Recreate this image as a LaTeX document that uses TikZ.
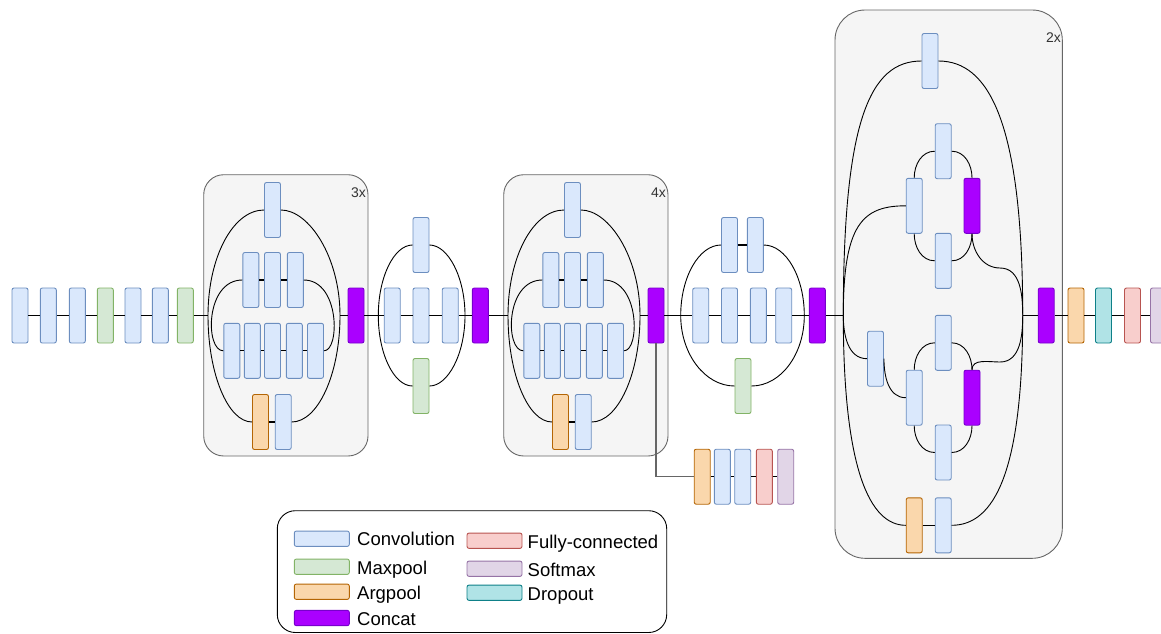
\documentclass[tikz,border=0pt]{standalone}
\usepackage{fontspec}
\setmainfont{Liberation Sans}
\definecolor{convF}{HTML}{DAE8FC}\definecolor{convD}{HTML}{6C8EBF}
\definecolor{maxF}{HTML}{D5E8D4}\definecolor{maxD}{HTML}{82B366}
\definecolor{argF}{HTML}{FAD7AC}\definecolor{argD}{HTML}{B46504}
\definecolor{catF}{HTML}{AA00FF}\definecolor{catD}{HTML}{7700CC}
\definecolor{fcF}{HTML}{F8CECC}\definecolor{fcD}{HTML}{B85450}
\definecolor{smF}{HTML}{E1D5E7}\definecolor{smD}{HTML}{9673A6}
\definecolor{doF}{HTML}{B0E3E6}\definecolor{doD}{HTML}{0E8088}
\definecolor{boxF}{HTML}{F5F5F5}\definecolor{boxD}{HTML}{666666}
\definecolor{labC}{HTML}{333333}
\newcommand\legfont{\fontsize{18.5}{22}\selectfont}
\newcommand\lblfont{\fontsize{14}{16}\selectfont}
\tikzset{
  blk/.style={rectangle, rounded corners=2pt, minimum width=16pt, minimum height=55pt, inner sep=0pt, line width=0.9pt},
  conv/.style={blk, fill=convF, draw=convD},
  maxp/.style={blk, fill=maxF, draw=maxD},
  argp/.style={blk, fill=argF, draw=argD},
  concat/.style={blk, fill=catF, draw=catD},
  fcl/.style={blk, fill=fcF, draw=fcD},
  smx/.style={blk, fill=smF, draw=smD},
  dropo/.style={blk, fill=doF, draw=doD},
  sw/.style={rectangle, rounded corners=2pt, minimum width=55pt, minimum height=15.3pt, inner sep=0pt, line width=0.9pt},
  wire/.style={line width=1.1pt, black},
  curve/.style={line width=0.9pt, black},
  modbox/.style={fill=boxF, draw=boxD, line width=0.9pt},
  lbl/.style={anchor=east, inner sep=0pt, text=labC, font=\lblfont},
  legtext/.style={anchor=base west, inner sep=0pt, font=\legfont},
}
\newcommand\incmod[3]{%
\begin{scope}[xshift=#2pt]
  \draw[modbox, rounded corners=20pt] (203.7,174.7) rectangle (368,456);
  \node[lbl] (#1lab) at (366,193) {#3};
  \coordinate (#1in) at (208,315.5);
  \coordinate (#1out) at (340,315.5);
  \node[conv] (#1t) at (272.5,210) {};
  \node[conv] (#1ra) at (250.8,280) {};
  \node[conv] (#1rb) at (272.5,280) {};
  \node[conv] (#1rc) at (295.3,280) {};
  \node[conv] (#1sa) at (231.8,350.8) {};
  \node[conv] (#1sb) at (252.3,350.8) {};
  \node[conv] (#1sc) at (272.5,350.8) {};
  \node[conv] (#1sd) at (294.3,350.8) {};
  \node[conv] (#1se) at (315.5,350.8) {};
  \node[argp] (#1o) at (260.5,422) {};
  \node[conv] (#1p) at (283.2,422) {};
  \node[concat] (#1c) at (356,315.5) {};
  \draw[curve] (#1in) .. controls (208,257) and (233,210) .. (#1t.west);
  \draw[curve] (#1t.east) .. controls (309,210) and (340,257) .. (#1out);
  \draw[curve] (#1in) .. controls (208,374) and (228,422) .. (#1o.west);
  \draw[curve] (#1p.east) .. controls (318,422) and (340,374) .. (#1out);
  \draw[curve] (#1ra.west) .. controls (205,280) and (205,351) .. (#1sa.west);
  \draw[curve] (#1rc.east) .. controls (340,280) and (340,351) .. (#1se.east);
  \draw[wire] (#1ra) -- (#1rb) -- (#1rc);
  \draw[wire] (#1sa) -- (#1sb) -- (#1sc) -- (#1sd) -- (#1se);
  \draw[wire] (#1o) -- (#1p);
  \draw[curve] (#1out) -- (#1c);
\end{scope}}
\begin{document}
\begin{tikzpicture}[x=1pt,y=-1pt]
\useasboundingbox (0,0) rectangle (1161,633);
% left chain
\node[conv] (c1) at (20,315.5) {};
\node[conv] (c2) at (48.3,315.5) {};
\node[conv] (c3) at (77.3,315.5) {};
\node[maxp] (c4) at (105.3,315.5) {};
\node[conv] (c5) at (133,315.5) {};
\node[conv] (c6) at (160.3,315.5) {};
\node[maxp] (c7) at (185.3,315.5) {};
\draw[wire] (c1) -- (c2) -- (c3) -- (c4) -- (c5) -- (c6) -- (c7);
% modules 1 and 2
\incmod{ma}{0}{3x}
\incmod{mc}{300}{4x}
\draw[wire] (c7) -- (main);
% between module
\node[conv] (bt) at (421,245) {};
\node[conv] (b1) at (392.2,315.5) {};
\node[conv] (b2) at (421,315.5) {};
\node[conv] (b3) at (450.2,315.5) {};
\node[maxp] (bg) at (421,386) {};
\node[concat] (bc) at (480.3,315.5) {};
\coordinate (bin) at (378.3,315.5);
\coordinate (bout) at (465,315.5);
\draw[curve] (bin) .. controls (378.3,277) and (394,245) .. (bt.west);
\draw[curve] (bt.east) .. controls (448,245) and (465,277) .. (bout);
\draw[curve] (bin) .. controls (378.3,354) and (394,386) .. (bg.west);
\draw[curve] (bg.east) .. controls (448,386) and (465,354) .. (bout);
\draw[wire] (mac) -- (b1) -- (b2) -- (b3) -- (bc);
\draw[wire] (bc) -- (mcin);
% aux classifier
\node[argp] (a1) at (702.2,476.7) {};
\node[conv] (a2) at (722.3,476.7) {};
\node[conv] (a3) at (742.7,476.7) {};
\node[fcl] (a4) at (764.3,476.7) {};
\node[smx] (a5) at (785.7,476.7) {};
\draw[line width=1.1pt, draw=boxD] (mcc.south) |- (a1.west);
\draw[wire] (a1) -- (a2) -- (a3) -- (a4) -- (a5);
% module 3
\node[conv] (dt1) at (729.5,245) {};
\node[conv] (dt2) at (755.3,245) {};
\node[conv] (d1) at (700.7,315.5) {};
\node[conv] (d2) at (729.5,315.5) {};
\node[conv] (d3) at (758.3,315.5) {};
\node[conv] (d4) at (783.7,315.5) {};
\node[maxp] (dg) at (743,386) {};
\node[concat] (dc) at (817.3,315.5) {};
\coordinate (din) at (680.7,315.5);
\coordinate (dout) at (804.3,315.5);
\draw[curve] (din) .. controls (680.7,277) and (699,245) .. (dt1.west);
\draw[curve] (dt2.east) .. controls (786,245) and (804.3,277) .. (dout);
\draw[curve] (din) .. controls (680.7,354) and (705,386) .. (dg.west);
\draw[curve] (dg.east) .. controls (781,386) and (804.3,354) .. (dout);
\draw[wire] (dt1) -- (dt2);
\draw[wire] (mcc) -- (d1) -- (d2) -- (d3) -- (d4) -- (dc);
% big module
\draw[modbox, rounded corners=30pt] (835,10) rectangle (1062.3,558.3);
\node[lbl] (elab) at (1061,38) {2x};
\coordinate (ein) at (843.3,315.5);
\coordinate (eout) at (1022.7,315.5);
\node[conv] (et) at (930,61) {};
\node[argp] (eo) at (914.2,525.3) {};
\node[conv] (ep) at (943.2,525.3) {};
\node[conv] (ua) at (914.2,205.8) {};
\node[conv] (ub) at (943.2,151.2) {};
\node[conv] (uc) at (943.2,260.8) {};
\node[concat] (ud) at (972,205.8) {};
\node[conv] (le) at (875.5,358.7) {};
\node[conv] (la) at (914.2,397.7) {};
\node[conv] (lb) at (943.2,342.8) {};
\node[conv] (lc) at (943.2,452.5) {};
\node[concat] (ld) at (972,397.7) {};
\draw[curve] (ein) .. controls (843.3,120) and (870,61) .. (et.west);
\draw[curve] (et.east) .. controls (988,61) and (1022.7,120) .. (eout);
\draw[curve] (ein) .. controls (843.3,470) and (870,525.3) .. (eo.west);
\draw[curve] (ep.east) .. controls (995,525.3) and (1022.7,470) .. (eout);
\draw[wire] (eo) -- (ep);
\draw[curve] (ein) .. controls (843.3,225) and (862,205.8) .. (ua.west);
\draw[curve] (ua.north) to[out=90,in=180] (ub.west);
\draw[curve] (ub.east) to[out=0,in=90] (ud.north);
\draw[curve] (ua.south) to[out=-90,in=180] (uc.west);
\draw[curve] (uc.east) to[out=0,in=-90] (ud.south);
\coordinate (uk) at (1000,268);
\draw[curve] (ud.south) to[out=-90,in=180] (uk) to[out=0,in=90] (eout);
\draw[curve] (ein) to[out=-90,in=180] (le.west);
\draw[curve] (le.east) to[out=-90,in=180] (la.west);
\draw[curve] (la.north) to[out=90,in=180] (lb.west);
\draw[curve] (lb.east) to[out=0,in=90] (ld.north);
\draw[curve] (la.south) to[out=-90,in=180] (lc.west);
\draw[curve] (lc.east) to[out=0,in=-90] (ld.south);
\coordinate (lk) at (1000,362);
\draw[curve] (ld.north) to[out=90,in=180] (lk) to[out=0,in=-90] (eout);
\draw[wire] (dc) -- (ein);
% final chain
\node[concat] (g0) at (1046.2,315.5) {};
\node[argp] (g1) at (1076,315.5) {};
\node[dropo] (g2) at (1103.5,315.5) {};
\node[fcl] (g3) at (1132.5,315.5) {};
\node[smx] (g4) at (1158.5,315.5) {};
\draw[wire] (eout) -- (g0) -- (g1) -- (g2) -- (g3) -- (g4);
% legend
\draw[line width=0.9pt, black, rounded corners=18pt] (277.3,510.7) rectangle (666.7,632.5);
\node[sw, fill=convF, draw=convD] (lconv) at (321.8,538.7) {};
\node[sw, fill=maxF, draw=maxD] (lmax) at (321.8,566.7) {};
\node[sw, fill=argF, draw=argD] (larg) at (321.8,591.7) {};
\node[sw, fill=catF, draw=catD] (lcat) at (321.8,618) {};
\node[sw, fill=fcF, draw=fcD] (lfc) at (494.5,540.7) {};
\node[sw, fill=smF, draw=smD] (lsm) at (494.5,568.7) {};
\node[sw, fill=doF, draw=doD] (ldo) at (494.5,592.7) {};
\node[legtext] (tconv) at (357,545.5) {Convolution};
\node[legtext] (tmax) at (357,574) {Maxpool};
\node[legtext] (targ) at (357,599) {Argpool};
\node[legtext] (tcat) at (357,625) {Concat};
\node[legtext] (tfc) at (527.5,548) {Fully-connected};
\node[legtext] (tsm) at (527.5,576) {Softmax};
\node[legtext] (tdo) at (527.5,600) {Dropout};
\end{tikzpicture}
\end{document}
